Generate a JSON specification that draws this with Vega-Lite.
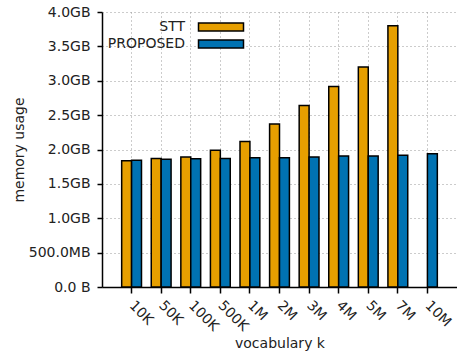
{
  "$schema": "https://vega.github.io/schema/vega-lite/v6.json",
  "width": 355,
  "height": 275,
  "autosize": {"type": "none"},
  "padding": {"left": 102, "top": 12, "right": 0, "bottom": 69},
  "background": "white",
  "data": {
    "values": [
      {"k": "10K", "series": "STT", "gb": 1.837},
      {"k": "10K", "series": "PROPOSED", "gb": 1.843},
      {"k": "50K", "series": "STT", "gb": 1.87},
      {"k": "50K", "series": "PROPOSED", "gb": 1.86},
      {"k": "100K", "series": "STT", "gb": 1.89},
      {"k": "100K", "series": "PROPOSED", "gb": 1.865},
      {"k": "500K", "series": "STT", "gb": 1.99},
      {"k": "500K", "series": "PROPOSED", "gb": 1.87},
      {"k": "1M", "series": "STT", "gb": 2.115},
      {"k": "1M", "series": "PROPOSED", "gb": 1.88},
      {"k": "2M", "series": "STT", "gb": 2.37},
      {"k": "2M", "series": "PROPOSED", "gb": 1.88},
      {"k": "3M", "series": "STT", "gb": 2.64},
      {"k": "3M", "series": "PROPOSED", "gb": 1.89},
      {"k": "4M", "series": "STT", "gb": 2.915},
      {"k": "4M", "series": "PROPOSED", "gb": 1.905},
      {"k": "5M", "series": "STT", "gb": 3.2},
      {"k": "5M", "series": "PROPOSED", "gb": 1.905},
      {"k": "7M", "series": "STT", "gb": 3.8},
      {"k": "7M", "series": "PROPOSED", "gb": 1.915},
      {"k": "10M", "series": "PROPOSED", "gb": 1.94}
    ]
  },
  "mark": {"type": "bar", "stroke": "black", "strokeWidth": 1.5},
  "encoding": {
    "x": {
      "field": "k",
      "type": "nominal",
      "sort": ["10K", "50K", "100K", "500K", "1M", "2M", "3M", "4M", "5M", "7M", "10M"],
      "scale": {"paddingInner": 0.33, "paddingOuter": 0.665},
      "axis": {
        "title": "vocabulary k",
        "titleFontSize": 14,
        "titleFontWeight": "normal",
        "titleColor": "#222",
        "titleY": 60,
        "titleBaseline": "alphabetic",
        "labelAngle": 45,
        "labelAlign": "left",
        "labelBaseline": "middle",
        "labelFontSize": 14,
        "labelColor": "#222",
        "labelPadding": 10,
        "bandPosition": 0.5,
        "grid": true,
        "gridDash": [1, 3],
        "gridColor": "#999",
        "domainColor": "black",
        "domainWidth": 1.5,
        "tickColor": "black",
        "tickSize": 6,
        "tickWidth": 1.5
      }
    },
    "xOffset": {"field": "series", "sort": ["STT", "PROPOSED"]},
    "y": {
      "field": "gb",
      "type": "quantitative",
      "scale": {"domain": [0, 4], "nice": false},
      "axis": {
        "values": [0, 0.5, 1, 1.5, 2, 2.5, 3, 3.5, 4],
        "labelExpr": "datum.value >= 1 ? format(datum.value, '.1f') + 'GB' : (datum.value > 0 ? format(datum.value * 1000, '.1f') + 'MB' : '0.0 B')",
        "title": "memory usage",
        "titleFontSize": 14,
        "titleFontWeight": "normal",
        "titleColor": "#222",
        "titleX": -76,
        "labelFontSize": 14,
        "labelColor": "#222",
        "labelPadding": 7,
        "grid": true,
        "gridDash": [1, 3],
        "gridColor": "#999",
        "domainColor": "black",
        "domainWidth": 1.5,
        "tickColor": "black",
        "tickSize": 5,
        "tickWidth": 1.5
      }
    },
    "color": {
      "field": "series",
      "type": "nominal",
      "scale": {"domain": ["STT", "PROPOSED"], "range": ["#E69F00", "#0072B2"]},
      "legend": {
        "title": null,
        "orient": "none",
        "legendX": 112,
        "legendY": 8,
        "padding": 0,
        "symbolType": "M-5,-0.9H5V0.9H-5Z",
        "symbolSize": 81,
        "symbolStrokeColor": "black",
        "symbolStrokeWidth": 1.5,
        "symbolFillOpacity": 1,
        "symbolOpacity": 1,
        "labelAlign": "right",
        "labelOffset": -43,
        "labelFontSize": 14,
        "labelColor": "#222",
        "labelLimit": 0,
        "rowPadding": 1
      }
    }
  },
  "config": {"view": {"stroke": null}, "font": "DejaVu Sans"}
}
